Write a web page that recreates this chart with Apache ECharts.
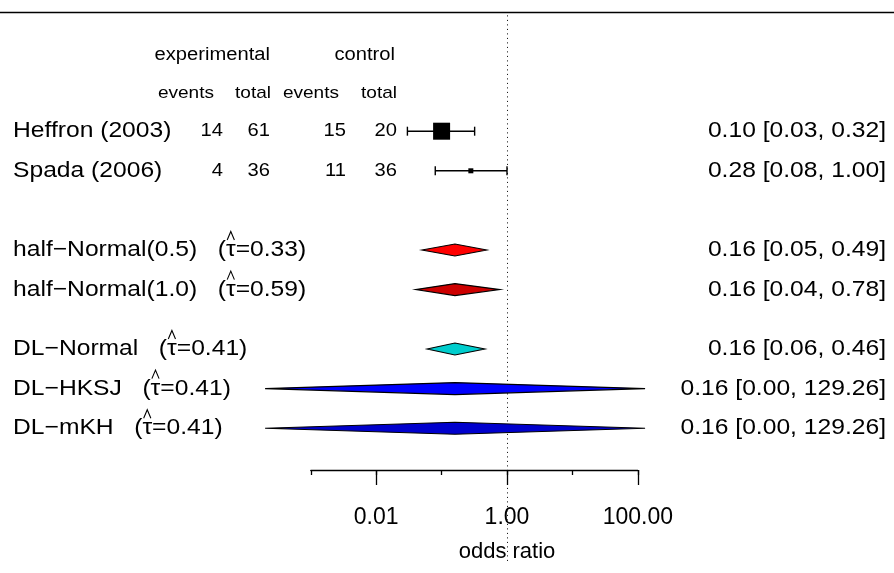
<!DOCTYPE html>
<html><head><meta charset="utf-8">
<script src="https://cdn.jsdelivr.net/npm/echarts@6/dist/echarts.min.js"></script>
<style>html,body{margin:0;padding:0;background:#fff}#c{width:894px;height:573px}</style>
</head><body><div id="c"></div>
<script>
// ---------------- data ----------------
const studyNames = ['Heffron (2003)', 'Spada (2006)'];
const expEvents  = [14, 4];
const expTotal   = [61, 36];
const ctrlEvents = [15, 11];
const ctrlTotal  = [20, 36];
const studyOR    = [0.10, 0.28];
const studyLower = [0.03, 0.08];
const studyUpper = [0.32, 1.00];

const methodNames = ['half-Normal(0.5)', 'half-Normal(1.0)', 'DL-Normal', 'DL-HKSJ', 'DL-mKH'];
const tauHat      = [0.33, 0.59, 0.41, 0.41, 0.41];
const pooledOR    = [0.16, 0.16, 0.16, 0.16, 0.16];
const pooledLower = [0.05, 0.04, 0.06, 0.0002, 0.0002];
const pooledUpper = [0.49, 0.78, 0.46, 129.26, 129.26];

const axisMinOR = 0.001, axisMaxOR = 100;     // drawn axis range
const axisLabelOR = [0.01, 1, 100];           // labelled ticks
const refOR = 1;
const xAxisTitle = 'odds ratio';
const headerTop = ['experimental', 'control'];
const headerSub = ['events', 'total', 'events', 'total'];

// ---------------- layout / style ----------------
const W = 894, H = 573;
const PX0 = 507, PXD = 65.4;          // pixel of log10(OR)=0, pixels per decade
const Y0 = 52, RH = 39.6;             // pixel of row 0, row height
const XMIN = (0 - PX0) / PXD, XMAX = (W - PX0) / PXD;
const YMIN = (0 - Y0) / RH, YMAX = (H - Y0) / RH;
const AXIS_Y = 470;
const SX = 1.12;                      // horizontal stretch of the reference font
const FONT = '"Liberation Sans", Arial, Helvetica, sans-serif';
const headerRows = [0.08, 1.04];
const studyRows = [2, 3];
const methodRows = [5, 6, 7.5, 8.5, 9.5];
const methodColors = ['#FF0000', '#CD0000', '#00CDCD', '#0000FF', '#0000CD'];
const boxSizes = [17, 5];
const L = Math.log10;
const lx = px => (px - PX0) / PXD;
const fmt = v => v.toFixed(2);
const minus = s => s.replace(/-/g, '\u2212');

const meas = document.createElement('canvas').getContext('2d');
function textW(str, size) { meas.font = size + 'px ' + FONT; return meas.measureText(str).width; }

// ---------------- text items ----------------
const texts = [];
function addText(px, row, str, align, size, hat) {
  texts.push({ value: [lx(px), row], str, align, size, hat });
}
addText(270, headerRows[0], headerTop[0], 'right', 18);
addText(395, headerRows[0], headerTop[1], 'right', 18);
[214, 271, 339, 397].forEach((px, i) => addText(px, headerRows[1], headerSub[i], 'right', 17));
studyNames.forEach((n, i) => {
  const r = studyRows[i];
  addText(13, r, n, 'left', 22);
  addText(223, r, String(expEvents[i]), 'right', 18);
  addText(270, r, String(expTotal[i]), 'right', 18);
  addText(346, r, String(ctrlEvents[i]), 'right', 18);
  addText(397, r, String(ctrlTotal[i]), 'right', 18);
  addText(886, r, fmt(studyOR[i]) + ' [' + fmt(studyLower[i]) + ', ' + fmt(studyUpper[i]) + ']', 'right', 22);
});
methodNames.forEach((n, i) => {
  const r = methodRows[i];
  const pre = minus(n) + '   (';
  const str = pre + '\u03C4=' + fmt(tauHat[i]) + ')';
  const hat = textW(pre, 22) + textW('\u03C4', 22) / 2;
  addText(13, r, str, 'left', 22, hat);
  addText(886, r, fmt(pooledOR[i]) + ' [' + fmt(pooledLower[i]) + ', ' + fmt(pooledUpper[i]) + ']', 'right', 22);
});

// ---------------- chart ----------------
const chart = echarts.init(document.getElementById('c'), null, { renderer: 'canvas' });
const axisGridLeft = PX0 + L(axisMinOR) * PXD;
const option = {
  animation: false,
  backgroundColor: '#fff',
  grid: [
    { left: 0, top: 0, width: W, height: H },
    { left: axisGridLeft, width: (L(axisMaxOR) - L(axisMinOR)) * PXD, top: 0, height: AXIS_Y },
    { left: PX0 + L(axisLabelOR[0]) * PXD, width: (L(axisLabelOR[2]) - L(axisLabelOR[0])) * PXD, top: 0, height: AXIS_Y }
  ],
  xAxis: [
    { gridIndex: 0, type: 'value', min: XMIN, max: XMAX, show: false },
    { gridIndex: 1, type: 'value', min: L(axisMinOR), max: L(axisMaxOR), interval: 1, position: 'bottom',
      axisLine: { show: true, lineStyle: { color: '#000', width: 1.3 } },
      axisTick: { show: true, length: 5, lineStyle: { color: '#000', width: 1.3 } },
      axisLabel: { show: false }, splitLine: { show: false } },
    { gridIndex: 2, type: 'value', min: L(axisLabelOR[0]), max: L(axisLabelOR[2]), interval: 2, position: 'bottom',
      axisLine: { show: false },
      axisTick: { show: true, length: 15, lineStyle: { color: '#000', width: 1.3 } },
      axisLabel: { show: true, color: '#000', fontSize: 23, fontFamily: FONT, margin: 36,
        formatter: v => { const k = axisLabelOR.findIndex(o => Math.abs(L(o) - v) < 1e-9); return k >= 0 ? fmt(axisLabelOR[k]) : ''; } },
      splitLine: { show: false },
      name: xAxisTitle, nameLocation: 'middle', nameGap: 71,
      nameTextStyle: { color: '#000', fontSize: 22, fontFamily: FONT } }
  ],
  yAxis: [
    { gridIndex: 0, type: 'value', inverse: true, min: YMIN, max: YMAX, show: false },
    { gridIndex: 1, type: 'value', show: false },
    { gridIndex: 2, type: 'value', show: false }
  ],
  series: [
    { // frame: top rule and reference line
      type: 'custom', xAxisIndex: 0, yAxisIndex: 0, silent: true, clip: false, z: 1,
      data: [[L(refOR), -1]],
      renderItem(params, api) {
        const a = api.coord([XMIN, -1]), b = api.coord([XMAX, -1]);
        const r1 = api.coord([api.value(0), -1]), r2 = api.coord([api.value(0), (562 - Y0) / RH]);
        const rx = Math.round(r1[0]) + 0.5;
        return { type: 'group', children: [
          { type: 'line', shape: { x1: a[0], y1: a[1], x2: b[0], y2: b[1] }, style: { stroke: '#000', lineWidth: 1.5 } },
          { type: 'line', shape: { x1: rx, y1: r1[1] + 3, x2: rx, y2: r2[1] }, style: { stroke: '#000', lineWidth: 1, lineDash: [1, 3.5] } }
        ] };
      }
    },
    { // study CI bars
      type: 'custom', xAxisIndex: 0, yAxisIndex: 0, silent: true, clip: false, z: 3,
      encode: { x: [0, 1], y: 2 },
      data: studyNames.map((n, i) => [L(studyLower[i]), L(studyUpper[i]), studyRows[i]]),
      renderItem(params, api) {
        const p1 = api.coord([api.value(0), api.value(2)]), p2 = api.coord([api.value(1), api.value(2)]);
        const st = { stroke: '#000', lineWidth: 1.4 };
        return { type: 'group', children: [
          { type: 'line', shape: { x1: p1[0], y1: p1[1], x2: p2[0], y2: p2[1] }, style: st },
          { type: 'line', shape: { x1: p1[0], y1: p1[1] - 4.5, x2: p1[0], y2: p1[1] + 4.5 }, style: st },
          { type: 'line', shape: { x1: p2[0], y1: p2[1] - 4.5, x2: p2[0], y2: p2[1] + 4.5 }, style: st }
        ] };
      }
    },
    { // study point estimates
      type: 'scatter', xAxisIndex: 0, yAxisIndex: 0, silent: true, z: 4,
      symbol: 'rect',
      data: studyNames.map((n, i) => ({ value: [L(studyOR[i]), studyRows[i]], symbolSize: boxSizes[i] })),
      itemStyle: { color: '#000', opacity: 1 }
    },
    { // pooled diamonds
      type: 'custom', xAxisIndex: 0, yAxisIndex: 0, silent: true, clip: false, z: 3,
      encode: { x: [0, 1, 2], y: 3 },
      data: methodNames.map((n, i) => [L(pooledLower[i]), L(pooledOR[i]), L(pooledUpper[i]), methodRows[i]]),
      renderItem(params, api) {
        const r = api.value(3);
        const lo = api.coord([api.value(0), r]), c = api.coord([api.value(1), r]), hi = api.coord([api.value(2), r]);
        const h = 6;
        return { type: 'polygon', shape: { points: [[lo[0], lo[1]], [c[0], c[1] - h], [hi[0], hi[1]], [c[0], c[1] + h]] },
          style: { fill: methodColors[params.dataIndex], stroke: '#000', lineWidth: 1.1, lineJoin: 'miter' } };
      }
    },
    { // text columns
      type: 'custom', xAxisIndex: 0, yAxisIndex: 0, silent: true, clip: false, z: 5,
      data: texts.map(t => t.value),
      renderItem(params, api) {
        const t = texts[params.dataIndex];
        const p = api.coord([api.value(0), api.value(1)]);
        const children = [{ type: 'text', x: p[0], y: p[1], scaleX: SX, scaleY: 1,
          style: { text: t.str, x: 0, y: 0, textAlign: t.align, textVerticalAlign: 'middle',
            font: t.size + 'px ' + FONT, fill: '#000' } }];
        if (t.hat != null) {
          const hx = p[0] + t.hat * SX;
          children.push({ type: 'polyline', shape: { points: [[hx - 3.6, p[1] - 10], [hx, p[1] - 18.5], [hx + 3.6, p[1] - 10]] },
            style: { stroke: '#000', lineWidth: 1.1, fill: null } });
        }
        return { type: 'group', children };
      }
    }
  ]
};
chart.setOption(option);
</script>
</body></html>
